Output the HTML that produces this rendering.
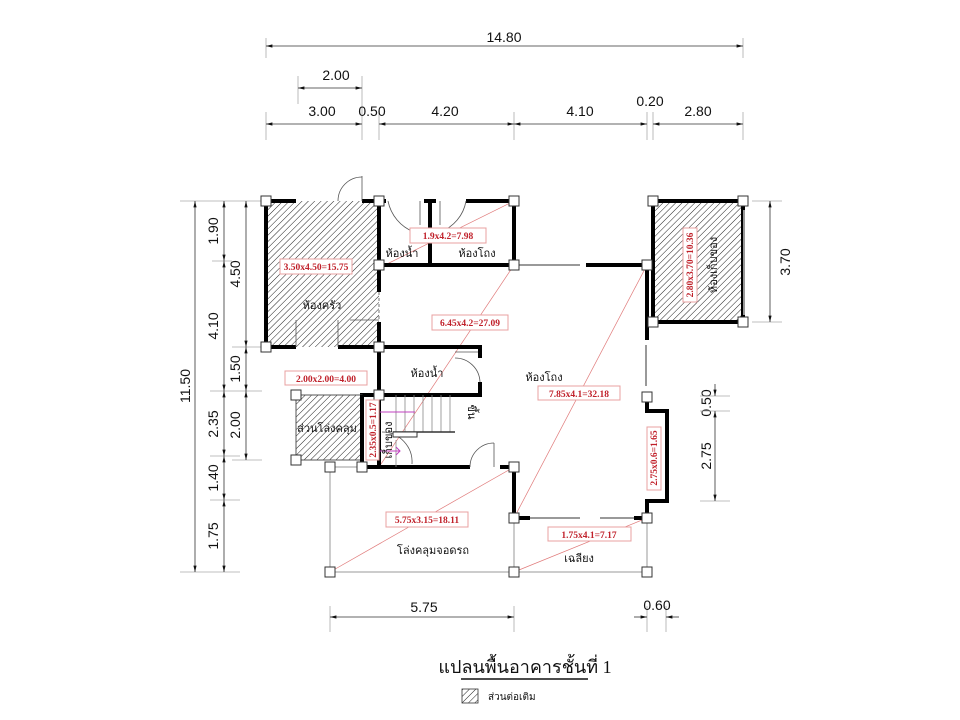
<!DOCTYPE html>
<html><head><meta charset="utf-8"><style>
html,body{margin:0;padding:0;background:#fff;width:960px;height:720px;overflow:hidden}
svg{display:block}
.d{font-family:"Liberation Sans",sans-serif;font-size:14px;fill:#111}
.t{font-family:"Liberation Serif","DejaVu Sans",sans-serif;font-size:11px;fill:#111}
.r{font-family:"Liberation Serif",serif;font-size:9.5px;font-weight:bold;fill:#c0202a}
.rb{fill:#fff;stroke:#e8a0a0;stroke-width:1}
.w{stroke:#000;stroke-width:4;fill:none}
.g{stroke:#999;stroke-width:1;fill:none}
.p{fill:#fff;stroke:#333;stroke-width:1}
.dl{stroke:#333;stroke-width:0.8;fill:none}
.ex{stroke:#aaa;stroke-width:0.8}
.pk{stroke:#e07a7a;stroke-width:0.7}
</style></head><body>
<svg width="960" height="720" viewBox="0 0 960 720" xmlns="http://www.w3.org/2000/svg">
<defs>
<pattern id="h" patternUnits="userSpaceOnUse" width="4.5" height="4.5" patternTransform="rotate(45)">
<line x1="0" y1="0" x2="0" y2="4.5" stroke="#222" stroke-width="1"/></pattern>
<marker id="a" markerWidth="8" markerHeight="6" refX="8" refY="3" orient="auto"><path d="M0,1 L8,3 L0,5z" fill="#111"/></marker>
<marker id="b" markerWidth="8" markerHeight="6" refX="0" refY="3" orient="auto"><path d="M8,1 L0,3 L8,5z" fill="#111"/></marker>
</defs>

<g class="ex">
<line x1="266" y1="38" x2="266" y2="58"/><line x1="743" y1="38" x2="743" y2="58"/>
<line x1="298" y1="76" x2="298" y2="104"/><line x1="362" y1="76" x2="362" y2="140"/>
<line x1="266" y1="112" x2="266" y2="140"/><line x1="379" y1="112" x2="379" y2="140"/>
<line x1="514" y1="112" x2="514" y2="140"/><line x1="647" y1="112" x2="647" y2="140"/>
<line x1="653" y1="112" x2="653" y2="140"/><line x1="743" y1="112" x2="743" y2="140"/>
</g>
<g class="dl">
<line x1="266" y1="46" x2="743" y2="46" marker-start="url(#b)" marker-end="url(#a)"/>
<line x1="298" y1="88" x2="362" y2="88" marker-start="url(#b)" marker-end="url(#a)"/>
<line x1="266" y1="124" x2="362" y2="124" marker-start="url(#b)" marker-end="url(#a)"/>
<line x1="379" y1="124" x2="514" y2="124" marker-start="url(#b)" marker-end="url(#a)"/>
<line x1="514" y1="124" x2="647" y2="124" marker-start="url(#b)" marker-end="url(#a)"/>
<line x1="653" y1="124" x2="743" y2="124" marker-start="url(#b)" marker-end="url(#a)"/>
</g>
<text class="d" x="504" y="42" text-anchor="middle">14.80</text>
<text class="d" x="336" y="80" text-anchor="middle">2.00</text>
<text class="d" x="322" y="116" text-anchor="middle">3.00</text>
<text class="d" x="372" y="116" text-anchor="middle">0.50</text>
<text class="d" x="445" y="116" text-anchor="middle">4.20</text>
<text class="d" x="580" y="116" text-anchor="middle">4.10</text>
<text class="d" x="650" y="106" text-anchor="middle">0.20</text>
<text class="d" x="698" y="116" text-anchor="middle">2.80</text>

<g class="ex">
<line x1="180" y1="201" x2="262" y2="201"/><line x1="180" y1="572" x2="240" y2="572"/>
<line x1="212" y1="261" x2="232" y2="261"/><line x1="232" y1="347" x2="262" y2="347"/>
<line x1="210" y1="391" x2="262" y2="391"/><line x1="232" y1="460" x2="262" y2="460"/>
<line x1="210" y1="456" x2="240" y2="456"/><line x1="210" y1="500" x2="240" y2="500"/>
</g>
<g class="dl">
<line x1="195" y1="201" x2="195" y2="572" marker-start="url(#b)" marker-end="url(#a)"/>
<line x1="224" y1="201" x2="224" y2="261" marker-start="url(#b)" marker-end="url(#a)"/>
<line x1="224" y1="261" x2="224" y2="391" marker-start="url(#b)" marker-end="url(#a)"/>
<line x1="224" y1="391" x2="224" y2="456" marker-start="url(#b)" marker-end="url(#a)"/>
<line x1="224" y1="456" x2="224" y2="500" marker-start="url(#b)" marker-end="url(#a)"/>
<line x1="224" y1="500" x2="224" y2="572" marker-start="url(#b)" marker-end="url(#a)"/>
<line x1="246" y1="201" x2="246" y2="347" marker-start="url(#b)" marker-end="url(#a)"/>
<line x1="246" y1="347" x2="246" y2="391" marker-start="url(#b)" marker-end="url(#a)"/>
<line x1="246" y1="391" x2="246" y2="460" marker-start="url(#b)" marker-end="url(#a)"/>
</g>
<g class="d" text-anchor="middle">
<text transform="translate(190,386) rotate(-90)">11.50</text>
<text transform="translate(218,231) rotate(-90)">1.90</text>
<text transform="translate(218,326) rotate(-90)">4.10</text>
<text transform="translate(218,424) rotate(-90)">2.35</text>
<text transform="translate(218,478) rotate(-90)">1.40</text>
<text transform="translate(218,536) rotate(-90)">1.75</text>
<text transform="translate(240,274) rotate(-90)">4.50</text>
<text transform="translate(240,369) rotate(-90)">1.50</text>
<text transform="translate(240,425) rotate(-90)">2.00</text>
<text transform="translate(790,262) rotate(-90)">3.70</text>
<text transform="translate(711,403) rotate(-90)">0.50</text>
<text transform="translate(711,456) rotate(-90)">2.75</text>
</g>
<g class="ex">
<line x1="752" y1="201" x2="782" y2="201"/><line x1="752" y1="322" x2="782" y2="322"/>
<line x1="700" y1="396" x2="730" y2="396"/><line x1="700" y1="411" x2="730" y2="411"/>
<line x1="700" y1="501" x2="730" y2="501"/>
</g>
<g class="dl">
<line x1="770" y1="201" x2="770" y2="322" marker-start="url(#b)" marker-end="url(#a)"/>
<line x1="715" y1="384" x2="715" y2="396" marker-end="url(#a)"/>
<line x1="715" y1="411" x2="715" y2="501" marker-start="url(#b)" marker-end="url(#a)"/>
</g>

<g class="ex"><line x1="330" y1="606" x2="330" y2="632"/><line x1="514" y1="606" x2="514" y2="632"/>
<line x1="647" y1="606" x2="647" y2="632"/><line x1="666" y1="606" x2="666" y2="632"/></g>
<g class="dl"><line x1="330" y1="617" x2="514" y2="617" marker-start="url(#b)" marker-end="url(#a)"/>
<line x1="634" y1="617" x2="647" y2="617" marker-end="url(#a)"/>
<line x1="679" y1="617" x2="666" y2="617" marker-end="url(#a)"/></g>
<text class="d" x="424" y="612" text-anchor="middle">5.75</text>
<text class="d" x="657" y="610" text-anchor="middle">0.60</text>

<rect x="266" y="201" width="113" height="146" fill="url(#h)"/>
<rect x="296" y="395" width="66" height="65" fill="url(#h)"/>
<rect x="653" y="201" width="90" height="121" fill="url(#h)"/>

<g class="g" stroke="#aaa">
<polyline points="330,467 362,467"/>
<line x1="330" y1="467" x2="330" y2="572"/><line x1="330" y1="572" x2="647" y2="572"/>
<line x1="514" y1="518" x2="514" y2="572"/><line x1="647" y1="518" x2="647" y2="572"/>
</g>

<g class="pk">
<line x1="385" y1="265" x2="514" y2="201"/>
<line x1="514" y1="265" x2="379" y2="467"/>
<line x1="647" y1="265" x2="514" y2="518"/>
<line x1="514" y1="467" x2="330" y2="572"/>
<line x1="647" y1="518" x2="514" y2="572"/>
</g>

<g class="w">
<polyline points="296,201 266,201 266,347 296,347"/>
<line x1="362" y1="201" x2="379" y2="201"/>
<line x1="338" y1="347" x2="379" y2="347"/>
<line x1="379" y1="201" x2="379" y2="292"/>
<line x1="379" y1="322" x2="379" y2="467"/>
<line x1="379" y1="201" x2="386" y2="201"/>
<line x1="379" y1="265" x2="514" y2="265"/>
<line x1="424" y1="201" x2="436" y2="201"/>
<line x1="430" y1="201" x2="430" y2="265"/>
<line x1="466" y1="201" x2="514" y2="201"/>
<line x1="514" y1="201" x2="514" y2="265"/>
<line x1="586" y1="265" x2="647" y2="265"/>
<line x1="647" y1="265" x2="647" y2="340"/>
<rect x="653" y="201" width="90" height="121"/>
<polyline points="379,347 480,347 480,358"/>
<polyline points="480,382 480,395 362,395 362,467 470,467"/>
<line x1="500" y1="467" x2="514" y2="467"/>
<line x1="514" y1="467" x2="514" y2="518"/>
<line x1="514" y1="518" x2="530" y2="518"/>
<line x1="634" y1="518" x2="647" y2="518"/>
<polyline points="647,397 647,411 667,411 667,501 647,501 647,518"/>
</g>
<rect x="296" y="395" width="66" height="65" fill="none" stroke="#555" stroke-width="1"/>
<line x1="362" y1="395" x2="362" y2="467" stroke="#000" stroke-width="4"/>

<g stroke="#555" stroke-width="0.8" fill="none">
<line x1="362" y1="201" x2="362" y2="176"/><path d="M338,201 A24,24 0 0 1 362,177"/>
<path d="M388,201 A42,42 0 0 0 414,232"/>
<path d="M466,201 A40,40 0 0 1 440,232"/>
<line x1="420" y1="201" x2="420" y2="225"/><line x1="440" y1="201" x2="440" y2="225"/>
<path d="M455,358 A25,25 0 0 1 480,382"/><line x1="455" y1="352" x2="478" y2="352"/>
<path d="M470,467 A24,24 0 0 1 494,443"/><line x1="494" y1="443" x2="494" y2="467"/>
<path d="M382,432 A30,30 0 0 1 412,464"/>
<line x1="296" y1="347" x2="296" y2="320"/><line x1="338" y1="347" x2="338" y2="320"/>
<line x1="350" y1="320" x2="379" y2="320"/><line x1="379" y1="292" x2="379" y2="322" stroke-dasharray="3,3"/>
</g>
<g stroke="#999" stroke-width="2">
<line x1="518" y1="265" x2="580" y2="265"/>
<line x1="530" y1="518" x2="580" y2="518"/>
<line x1="600" y1="518" x2="634" y2="518"/>
<line x1="646" y1="345" x2="646" y2="386"/>
<line x1="744" y1="210" x2="744" y2="315"/>
</g>
<g stroke="#888" stroke-width="0.8">
<line x1="396" y1="395" x2="396" y2="432"/><line x1="405" y1="395" x2="405" y2="432"/>
<line x1="414" y1="395" x2="414" y2="432"/><line x1="423" y1="395" x2="423" y2="432"/>
<line x1="432" y1="395" x2="432" y2="432"/><line x1="441" y1="395" x2="441" y2="432"/>
<line x1="450" y1="395" x2="450" y2="432"/>
<line x1="396" y1="440" x2="396" y2="467"/>
</g>
<line x1="393" y1="432" x2="455" y2="432" stroke="#333" stroke-width="1.5"/>
<rect x="393" y="432" width="24" height="5" fill="#fff" stroke="#333" stroke-width="1"/>
<g stroke="#c040c0" stroke-width="1" fill="none">
<line x1="380" y1="412" x2="415" y2="412"/>
<line x1="380" y1="451" x2="400" y2="451"/><path d="M396,447 L400,451 L396,455"/>
</g>

<g class="p">
<rect x="261" y="196" width="10" height="10"/><rect x="374" y="196" width="10" height="10"/>
<rect x="509" y="196" width="10" height="10"/><rect x="648" y="196" width="10" height="10"/>
<rect x="738" y="196" width="10" height="10"/><rect x="374" y="260" width="10" height="10"/>
<rect x="509" y="260" width="10" height="10"/><rect x="642" y="260" width="10" height="10"/>
<rect x="261" y="342" width="10" height="10"/><rect x="374" y="342" width="10" height="10"/>
<rect x="648" y="317" width="10" height="10"/><rect x="738" y="317" width="10" height="10"/>
<rect x="291" y="390" width="10" height="10"/><rect x="374" y="390" width="10" height="10"/>
<rect x="291" y="455" width="10" height="10"/><rect x="357" y="462" width="10" height="10"/>
<rect x="325" y="462" width="10" height="10"/><rect x="509" y="462" width="10" height="10"/>
<rect x="509" y="513" width="10" height="10"/><rect x="642" y="513" width="10" height="10"/>
<rect x="642" y="392" width="10" height="10"/>
<rect x="325" y="567" width="10" height="10"/><rect x="509" y="567" width="10" height="10"/>
<rect x="642" y="567" width="10" height="10"/>
</g>

<rect class="rb" x="410" y="228" width="76" height="15"/><text class="r" x="448" y="239" text-anchor="middle">1.9x4.2=7.98</text>
<rect class="rb" x="280" y="259" width="72" height="15"/><text class="r" x="316" y="270" text-anchor="middle">3.50x4.50=15.75</text>
<rect class="rb" x="432" y="315" width="76" height="15"/><text class="r" x="470" y="326" text-anchor="middle">6.45x4.2=27.09</text>
<rect class="rb" x="285" y="371" width="82" height="14"/><text class="r" x="326" y="382" text-anchor="middle">2.00x2.00=4.00</text>
<rect class="rb" x="538" y="386" width="82" height="14"/><text class="r" x="579" y="397" text-anchor="middle">7.85x4.1=32.18</text>
<rect class="rb" x="386" y="512" width="82" height="15"/><text class="r" x="427" y="523" text-anchor="middle">5.75x3.15=18.11</text>
<rect class="rb" x="548" y="527" width="83" height="14"/><text class="r" x="589" y="538" text-anchor="middle">1.75x4.1=7.17</text>
<rect class="rb" x="683" y="228" width="14" height="74"/><text class="r" transform="translate(693,265) rotate(-90)" text-anchor="middle">2.80x3.70=10.36</text>
<rect class="rb" x="647" y="427" width="14" height="63"/><text class="r" transform="translate(657,458) rotate(-90)" text-anchor="middle">2.75x0.6=1.65</text>
<rect class="rb" x="366" y="400" width="13" height="60"/><text class="r" transform="translate(376,430) rotate(-90)" text-anchor="middle">2.35x0.5=1.17</text>

<g class="t" text-anchor="middle">
<text x="402" y="257">ห้องน้ำ</text>
<text x="477" y="257">ห้องโถง</text>
<text x="322" y="309">ห้องครัว</text>
<text x="427" y="377">ห้องน้ำ</text>
<text x="544" y="381">ห้องโถง</text>
<text x="327" y="432">ส่วนโล่งคลุม</text>
<text transform="translate(392,440) rotate(-90)">เก็บของ</text>
<text transform="translate(468,412) rotate(90)">ขึ้น</text>
<text transform="translate(717,265) rotate(-90)">ห้องเก็บของ</text>
<text x="433" y="554">โล่งคลุมจอดรถ</text>
<text x="579" y="562">เฉลียง</text>
</g>

<text x="525" y="673" text-anchor="middle" style="font-family:'Liberation Serif','DejaVu Serif',serif;font-size:18px;fill:#111">แปลนพื้นอาคารชั้นที่ 1</text>
<line x1="461" y1="679" x2="588" y2="679" stroke="#111" stroke-width="1.5"/>
<rect x="462" y="689" width="16" height="14" fill="url(#h)" stroke="#333" stroke-width="0.8"/>
<text x="488" y="700" style="font-family:'Liberation Sans','DejaVu Sans',sans-serif;font-size:10px;fill:#111">ส่วนต่อเติม</text>
</svg>
</body></html>
